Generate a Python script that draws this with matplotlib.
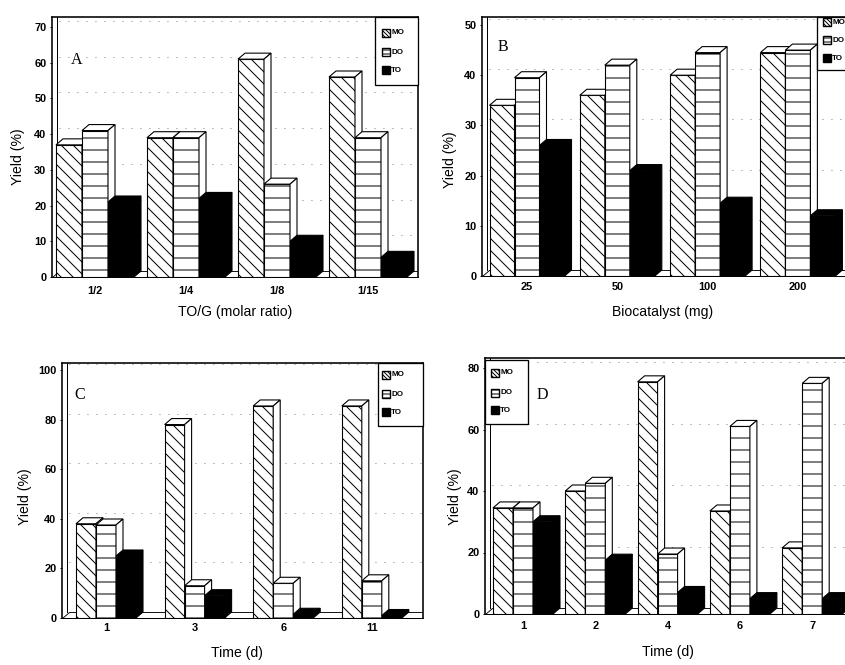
import matplotlib
matplotlib.use("Agg")
import matplotlib.pyplot as plt
from matplotlib.patches import Polygon, Rectangle

W, H = 845, 665
DPI = 72

plt.rcParams['font.family'] = ['Liberation Sans', 'DejaVu Sans']
plt.rcParams['hatch.linewidth'] = 1.0

series = ["MO", "DO", "TO"]

a_cats = ["1/2", "1/4", "1/8", "1/15"]
a_mo = [37, 39, 61, 56]
a_do = [41, 39, 26, 39]
a_to = [21, 22, 10, 5.5]

b_cats = ["25", "50", "100", "200"]
b_mo = [34, 36, 40, 44.5]
b_do = [39.5, 42, 44.5, 45]
b_to = [26, 21, 14.5, 12]

c_cats = ["1", "3", "6", "11"]
c_mo = [38, 78, 85.5, 85.5]
c_do = [37.5, 13, 14, 15]
c_to = [25, 9, 1.5, 1]

d_cats = ["1", "2", "4", "6", "7"]
d_mo = [34.5, 40, 75.5, 33.5, 21.5]
d_do = [34.5, 42.5, 19.5, 61, 75]
d_to = [30, 17.5, 7, 5, 5]

styles = {
    "MO": dict(fc="white", hatch="\\\\", lhatch="\\\\\\\\\\\\"),
    "DO": dict(fc="white", hatch="-", lhatch="---"),
    "TO": dict(fc="black", hatch=None, lhatch=None),
}

fig = plt.figure(figsize=(W / DPI, H / DPI), dpi=DPI)


def panel(cats, vals, letter, xlabel, yticks, lay):
    left, right, top, zero = lay["left"], lay["right"], lay["top"], lay["zero"]
    tmax, tmax_px = yticks[-1], lay["tmax_px"]
    c0, sp, bw = lay["c0"], lay["sp"], lay["bw"]
    ax = fig.add_axes([left / W, 1 - zero / H, (right - left) / W, (zero - top) / H])
    ppy = (zero - tmax_px) / tmax
    ymax = (zero - top) / ppy
    x0, x1 = (left - c0) / sp, (right - c0) / sp
    ax.set_xlim(x0, x1)
    ax.set_ylim(0, ymax)
    w = bw / sp
    dxd = 7 / sp
    dyd = 6 / ppy

    def axc(px, py):
        return ((px - left) / (right - left), (zero - py) / (zero - top))

    # floor and back wall
    ax.add_patch(Polygon([(x0, 0), (x1, 0), (x1, dyd), (x0 + dxd, dyd)],
                         closed=True, fc="white", ec="black", lw=0.9, zorder=1))
    ax.plot([x0 + 4.5 / sp, x0 + 4.5 / sp], [dyd, ymax], color="black", lw=1.0, zorder=1)
    for t in yticks[1:]:
        ax.plot([x0 + dxd, x1], [t + dyd, t + dyd], color="0.4", lw=0.9,
                ls=(0, (1, 9)), zorder=0.5)

    k = 0
    for i in range(len(cats)):
        for j, s in enumerate(series):
            h = vals[j][i]
            st = styles[s]
            xc = i + (j - 1) * w
            l, r = xc - w / 2, xc + w / 2
            z = 2 + k * 0.1
            ax.bar(xc, h, w, facecolor=st["fc"], edgecolor="black",
                   hatch=st["hatch"], lw=1.1, zorder=z)
            ax.add_patch(Polygon([(l, h), (r, h), (r + dxd, h + dyd), (l + dxd, h + dyd)],
                                 closed=True, fc=st["fc"], ec="black", lw=1.1, zorder=z + 0.01))
            ax.add_patch(Polygon([(r, 0), (r + dxd, dyd), (r + dxd, h + dyd), (r, h)],
                                 closed=True, fc=st["fc"], ec="black", lw=1.1, zorder=z + 0.01))
            k += 1

    for sname, sp_ in ax.spines.items():
        sp_.set_linewidth(1.6 if sname != "bottom" else 1.0)
        sp_.set_zorder(20)
    ax.set_yticks(yticks)
    ax.set_yticklabels([str(t) for t in yticks], fontsize=11, fontweight="bold")
    ax.tick_params(axis="y", direction="out", length=2.5, width=1, pad=3)
    ax.set_xticks(range(len(cats)))
    ax.set_xticklabels(cats, fontsize=11, fontweight="bold")
    ax.tick_params(axis="x", length=0, pad=lay["xpad"])

    ax.set_xlabel(xlabel, fontsize=14, va="center")
    ax.xaxis.set_label_coords(*axc(*lay["xlab"]))
    ax.set_ylabel("Yield (%)", fontsize=14, va="center")
    ax.yaxis.set_label_coords(*axc(*lay["ylab"]))

    ax.text(*axc(*lay["letter"]), letter, transform=ax.transAxes, fontsize=16,
            family=["Liberation Serif", "DejaVu Serif"], ha="center", va="center", zorder=30)

    # legend
    bl, bt, br, bb = lay["legbox"]
    lx0, ly0 = axc(bl, bb)
    lx1, ly1 = axc(br, bt)
    ax.add_patch(Rectangle((lx0, ly0), lx1 - lx0, ly1 - ly0, transform=ax.transAxes,
                           fc="white", ec="black", lw=1.3, zorder=25, clip_on=False))
    px = lay["legpx"]
    for s, py in zip(series, lay["legys"]):
        st = styles[s]
        ax_, ay_ = axc(px, py + 4)
        ax2, ay2 = axc(px + 8, py - 4)
        ax.add_patch(Rectangle((ax_, ay_), ax2 - ax_, ay2 - ay_, transform=ax.transAxes,
                               fc=st["fc"], ec="black", hatch=st["lhatch"], lw=1.4,
                               zorder=26, clip_on=False))
        tx, ty = axc(px + 9, py)
        ax.text(tx, ty, s, transform=ax.transAxes, fontsize=8, fontweight="bold",
                ha="left", va="center", zorder=27, clip_on=False)
    return ax


panel(a_cats, [a_mo, a_do, a_to], "A", "TO/G (molar ratio)", list(range(0, 71, 10)),
      dict(left=52, right=418, top=17, zero=277, tmax_px=27, c0=95, sp=91, bw=26,
           xpad=9, xlab=(235, 312), ylab=(18, 157), letter=(77, 60),
           legbox=(375, 17, 418, 85), legpx=382, legys=(33, 52, 70)))

panel(b_cats, [b_mo, b_do, b_to], "B", "Biocatalyst (mg)", list(range(0, 51, 10)),
      dict(left=482, right=865, top=17, zero=276, tmax_px=25, c0=527, sp=90.3, bw=25,
           xpad=6, xlab=(663, 312), ylab=(450, 160), letter=(503, 47),
           legbox=(817, 17, 865, 70), legpx=823, legys=(22, 40, 58)))

panel(c_cats, [c_mo, c_do, c_to], "C", "Time (d)", list(range(0, 101, 20)),
      dict(left=62, right=423, top=363, zero=618, tmax_px=370, c0=106, sp=88.6, bw=20,
           xpad=5, xlab=(237, 653), ylab=(25, 497), letter=(80, 395),
           legbox=(378, 363, 423, 426), legpx=382, legys=(375, 394, 412)))

panel(d_cats, [d_mo, d_do, d_to], "D", "Time (d)", list(range(0, 81, 20)),
      dict(left=485, right=855, top=358, zero=614, tmax_px=368, c0=523, sp=72.3, bw=20,
           xpad=7, xlab=(668, 652), ylab=(455, 497), letter=(542, 395),
           legbox=(485, 360, 528, 424), legpx=491, legys=(373, 393, 410)))

fig.savefig("out.png", dpi=DPI)
